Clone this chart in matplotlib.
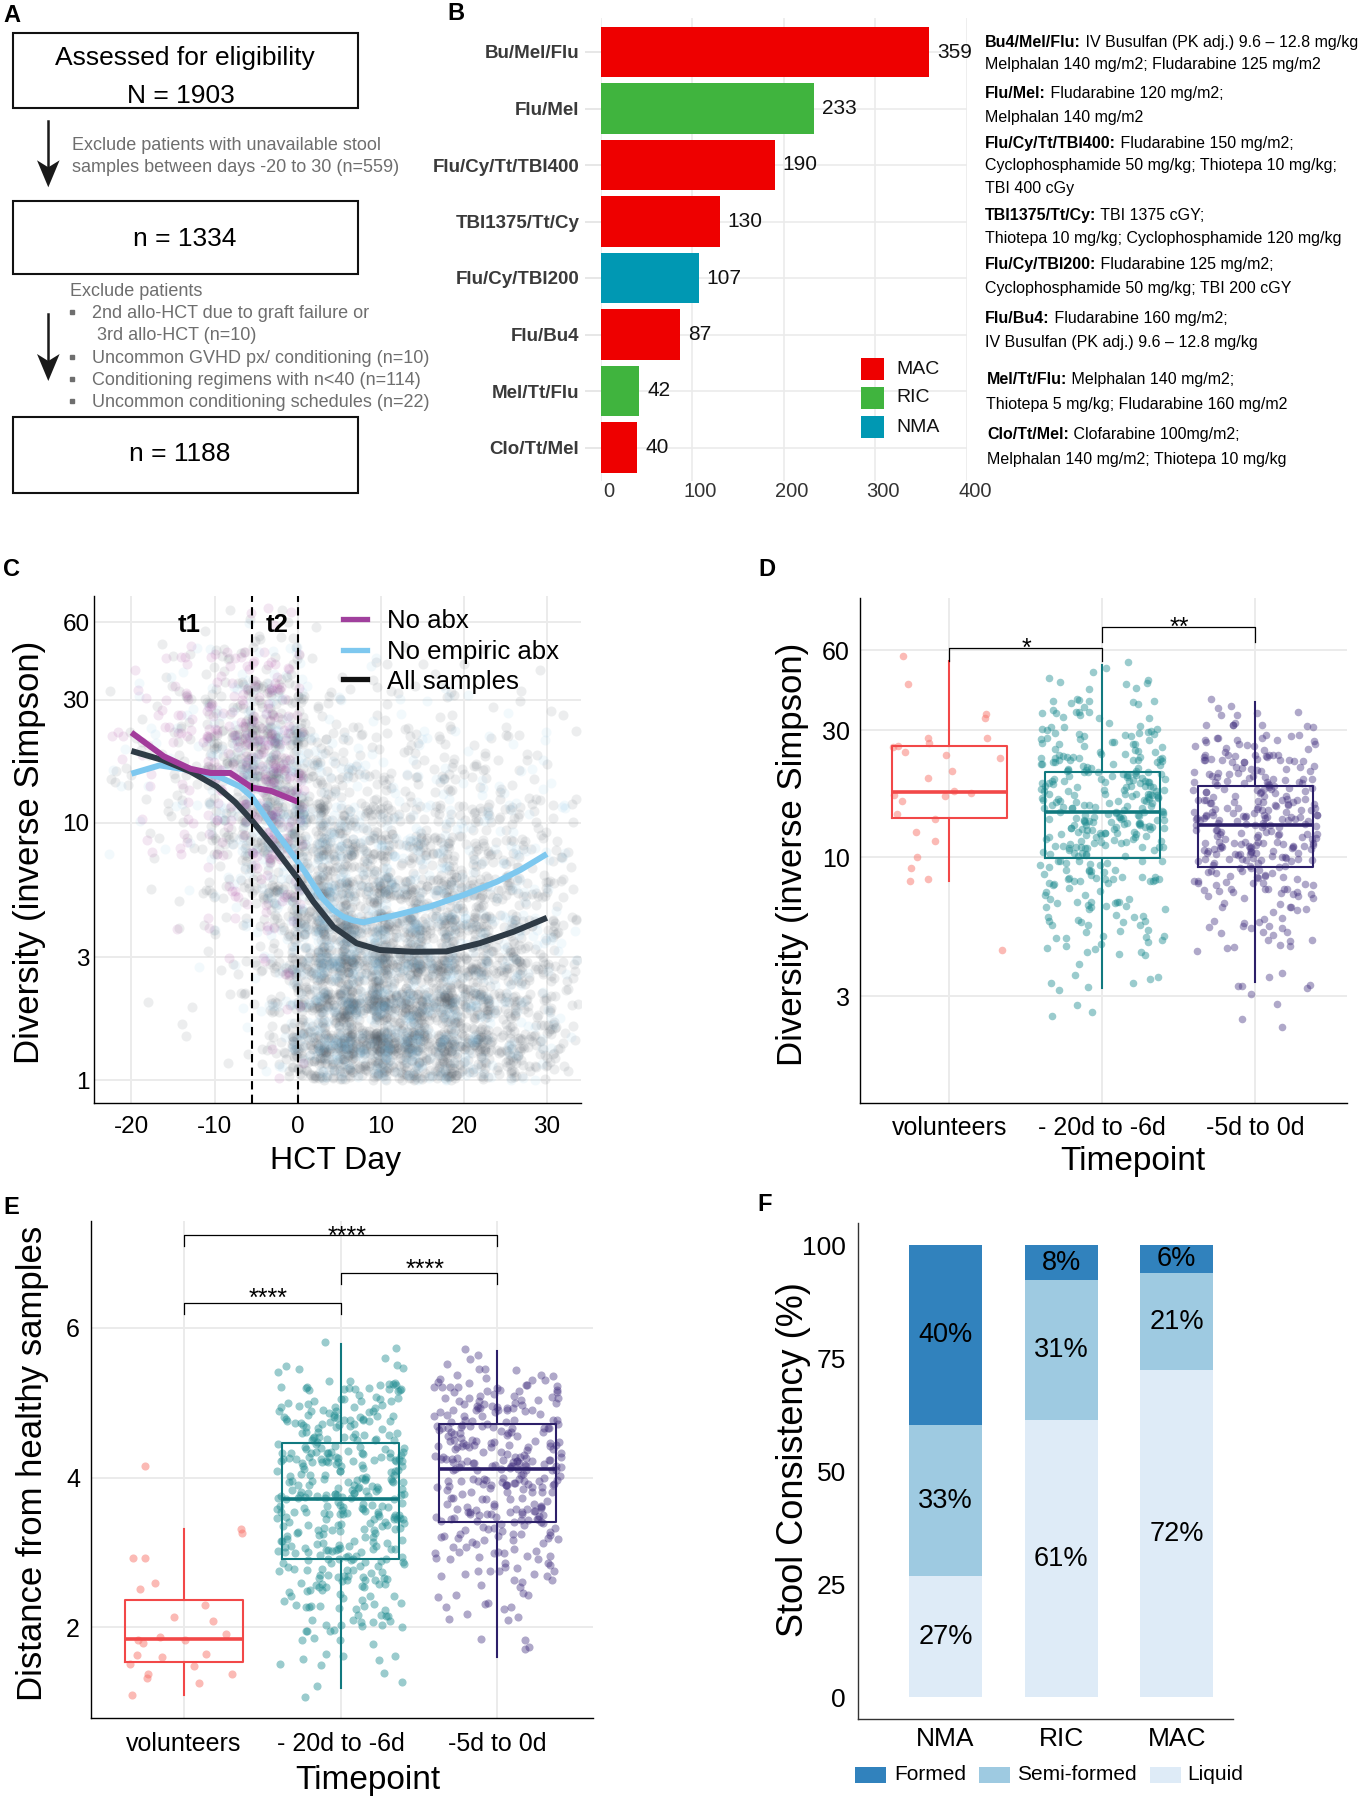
import numpy as np
import matplotlib
matplotlib.use("Agg")
import matplotlib.pyplot as plt
import matplotlib.transforms as mtransforms
from matplotlib.patches import Rectangle, Polygon
from matplotlib.lines import Line2D
from matplotlib.ticker import NullLocator

W, H, DPI = 1359, 1800, 100
plt.rcParams['font.family'] = ['Liberation Sans', 'DejaVu Sans']

# ======================= DATA =======================
# ---- A: flow chart ----
flow_title = "Assessed for eligibility"
flow_counts = ["N = 1903", "n = 1334", "n = 1188"]
exclusion_1 = ["Exclude patients with unavailable stool",
               "samples between days -20 to 30 (n=559)"]
exclusion_2_head = "Exclude patients"
exclusion_2_items = [["2nd allo-HCT due to graft failure or", " 3rd allo-HCT (n=10)"],
                     ["Uncommon GVHD px/ conditioning (n=10)"],
                     ["Conditioning regimens with n<40 (n=114)"],
                     ["Uncommon conditioning schedules (n=22)"]]

# ---- B: regimens ----
regimens = ['Bu/Mel/Flu', 'Flu/Mel', 'Flu/Cy/Tt/TBI400', 'TBI1375/Tt/Cy',
            'Flu/Cy/TBI200', 'Flu/Bu4', 'Mel/Tt/Flu', 'Clo/Tt/Mel']
regimen_n = [359, 233, 190, 130, 107, 87, 42, 40]
regimen_intensity = ['MAC', 'RIC', 'MAC', 'MAC', 'NMA', 'MAC', 'RIC', 'MAC']
intensity_levels = ['MAC', 'RIC', 'NMA']
regimen_desc_bold = ['Bu4/Mel/Flu:', 'Flu/Mel:', 'Flu/Cy/Tt/TBI400:', 'TBI1375/Tt/Cy:',
                     'Flu/Cy/TBI200:', 'Flu/Bu4:', 'Mel/Tt/Flu:', 'Clo/Tt/Mel:']
regimen_desc_lines = [
    [" IV Busulfan (PK adj.) 9.6 \u2013 12.8 mg/kg;", "Melphalan 140 mg/m2; Fludarabine 125 mg/m2"],
    [" Fludarabine 120 mg/m2;", "Melphalan 140 mg/m2"],
    [" Fludarabine 150 mg/m2;", "Cyclophosphamide 50 mg/kg; Thiotepa 10 mg/kg;", "TBI 400 cGy"],
    [" TBI 1375 cGY;", "Thiotepa 10 mg/kg; Cyclophosphamide 120 mg/kg"],
    [" Fludarabine 125 mg/m2;", "Cyclophosphamide 50 mg/kg; TBI 200 cGY"],
    [" Fludarabine 160 mg/m2;", "IV Busulfan (PK adj.) 9.6 \u2013 12.8 mg/kg"],
    [" Melphalan 140 mg/m2;", "Thiotepa 5 mg/kg; Fludarabine 160 mg/m2"],
    [" Clofarabine 100mg/m2;", "Melphalan 140 mg/m2; Thiotepa 10 mg/kg"],
]

# ---- C: diversity over time ----
c_xticks = [-20, -10, 0, 10, 20, 30]
c_yticks = [1, 3, 10, 30, 60]
c_window_edges = [-5.5, 0]
c_days_noabx = [-20, -16.1, -12.9, -10.5, -8.1, -5.5, -3.25, 0]
c_div_noabx = [22.4, 18.1, 16.2, 15.6, 15.6, 13.7, 13.3, 12.07]
c_days_noemp = [-20, -16.6, -12.9, -9.3, -6.9, -5.5, -2.9, -1.5, 0, 1.0, 1.9, 3.0, 4.3, 5.5, 6.7,
                7.9, 11.9, 15.9, 20, 24, 26.8, 30]
c_div_noemp = [15.5, 16.7, 16.0, 15.0, 13.8, 12.6, 9.5, 8.24, 7.05, 6.36, 5.73, 5.08, 4.58, 4.31, 4.17,
               4.10, 4.38, 4.72, 5.24, 5.9, 6.55, 7.56]
c_days_all = [-20, -16.2, -12.9, -9.7, -7.5, -5.5, -2.9, 0, 1.9, 4.3, 7.1, 9.9, 13.9, 17.9, 21.9, 26, 30]
c_div_all = [19.0, 17.5, 15.8, 13.8, 12.0, 10.2, 8.07, 6.08, 4.93, 3.94, 3.40, 3.20, 3.15, 3.16, 3.40,
             3.77, 4.27]
# sample counts per (diversity bin, day bin), read from the point cloud
c_day_edges = [-22, -18, -14, -10, -6, -3, 0, 3, 6, 10, 14, 18, 22, 26, 30, 33]
c_div_edges = [1.0, 1.41, 2.0, 2.8, 4.0, 5.6, 8.0, 11.0, 16.0, 22.0, 32.0, 45.0, 63.0]
c_all_counts = [
    [0, 0, 1, 1, 3, 10, 55, 75, 110, 110, 90, 75, 45, 30, 6],
    [0, 0, 1, 2, 4, 10, 50, 70, 100, 100, 85, 70, 45, 30, 8],
    [0, 1, 1, 3, 6, 12, 55, 70, 95, 95, 80, 65, 45, 32, 10],
    [0, 1, 1, 4, 8, 15, 52, 65, 80, 75, 62, 52, 40, 28, 9],
    [0, 1, 2, 8, 12, 22, 45, 50, 55, 50, 42, 35, 28, 22, 8],
    [1, 2, 3, 12, 20, 28, 40, 42, 45, 38, 32, 28, 22, 18, 7],
    [1, 2, 5, 20, 30, 36, 35, 32, 30, 26, 22, 20, 16, 13, 5],
    [3, 4, 8, 30, 40, 40, 28, 22, 18, 15, 14, 12, 10, 8, 3],
    [3, 4, 8, 30, 40, 36, 16, 11, 9, 8, 7, 7, 5, 4, 1],
    [3, 4, 8, 25, 30, 28, 8, 5, 5, 4, 4, 4, 3, 2, 1],
    [1, 4, 5, 12, 12, 11, 3, 2, 2, 2, 2, 2, 1, 1, 0],
    [0, 1, 1, 3, 4, 4, 1, 0, 0, 0, 0, 0, 0, 0, 0],
]
c_noemp_counts = [
    [0, 0, 0, 0, 1, 3, 15, 20, 25, 25, 20, 15, 10, 6, 1],
    [0, 0, 0, 1, 1, 3, 15, 20, 25, 25, 20, 15, 10, 7, 2],
    [0, 0, 0, 1, 2, 4, 18, 22, 28, 25, 20, 16, 12, 8, 2],
    [0, 0, 1, 1, 3, 6, 20, 24, 26, 22, 18, 14, 11, 8, 3],
    [0, 0, 1, 3, 5, 9, 17, 19, 19, 17, 14, 11, 9, 7, 2],
    [0, 1, 1, 5, 8, 11, 16, 16, 16, 13, 11, 10, 8, 6, 2],
    [1, 1, 2, 8, 12, 14, 13, 13, 11, 10, 8, 7, 6, 5, 2],
    [1, 2, 3, 12, 15, 15, 10, 9, 7, 6, 5, 5, 4, 3, 1],
    [2, 2, 3, 12, 15, 13, 6, 4, 4, 3, 2, 2, 2, 2, 1],
    [2, 2, 3, 10, 11, 9, 3, 2, 2, 2, 2, 2, 1, 1, 0],
    [1, 1, 2, 4, 4, 4, 2, 1, 1, 1, 1, 1, 0, 0, 0],
    [0, 0, 0, 1, 1, 1, 0, 0, 0, 0, 0, 0, 0, 0, 0],
]
c_noabx_counts = [
    [0, 0, 0, 0, 1, 1],
    [0, 0, 0, 0, 1, 1],
    [0, 0, 0, 1, 1, 2],
    [0, 0, 1, 1, 2, 3],
    [0, 0, 1, 3, 4, 5],
    [0, 1, 2, 5, 7, 8],
    [1, 2, 3, 8, 10, 10],
    [2, 3, 5, 14, 16, 14],
    [3, 4, 6, 16, 18, 15],
    [3, 5, 6, 14, 15, 12],
    [2, 4, 5, 7, 7, 6],
    [0, 1, 1, 2, 3, 3],
]

# ---- D: diversity by timepoint ----
timepoints = ['volunteers', '- 20d to -6d', '-5d to 0d']
d_yticks = [3, 10, 30, 60]
d_volunteers = [45.0, 57.0, 34.7, 33.4, 28.0, 28.0, 26.3, 26.8, 25.9, 25.0, 24.2, 23.7, 21.1, 19.9,
                17.5, 17.8, 17.0, 17.2, 16.3, 14.5, 13.9, 12.45, 11.55, 10.0, 9.14, 8.31, 8.14, 4.46]
d_bin_edges = [2.0, 2.51, 3.16, 3.98, 5.01, 6.31, 7.94, 10.0, 12.6, 15.8, 20.0, 25.1, 31.6, 39.8,
               50.1, 63.1]
d_early_counts = [0, 3, 8, 12, 18, 22, 35, 45, 58, 55, 48, 30, 20, 8, 2]
d_late_counts = [2, 2, 6, 8, 15, 25, 40, 55, 55, 50, 40, 25, 8, 0, 0]
# (whisker low, Q1, median, Q3, whisker high)
d_box_stats = [(8.15, 14.06, 17.65, 26.2, 54.8),
               (3.21, 9.97, 14.85, 21.0, 52.9),
               (3.40, 9.17, 13.2, 18.6, 38.5)]
d_signif = [(1, 2, '*'), (2, 3, '**')]

# ---- E: distance from healthy ----
e_yticks = [2, 4, 6]
e_volunteers = [4.16, 3.31, 3.26, 2.93, 2.92, 2.59, 2.51, 2.30, 2.14, 2.09, 1.91, 1.87, 1.83, 1.83,
                1.79, 1.65, 1.63, 1.61, 1.51, 1.48, 1.37, 1.37, 1.32, 1.25, 1.09]
e_bin_edges = [1.0, 1.25, 1.5, 1.75, 2.0, 2.25, 2.5, 2.75, 3.0, 3.25, 3.5, 3.75, 4.0, 4.25, 4.5,
               4.75, 5.0, 5.25, 5.5, 5.75, 6.0]
e_early_counts = [2, 3, 6, 9, 14, 20, 25, 28, 32, 32, 35, 40, 35, 32, 30, 30, 25, 8, 2, 1]
e_late_counts = [0, 0, 2, 2, 5, 8, 12, 15, 20, 25, 30, 35, 38, 35, 30, 30, 25, 12, 4, 0]
e_box_stats = [(1.10, 1.54, 1.84, 2.36, 3.31),
               (1.19, 2.91, 3.71, 4.46, 5.79),
               (1.60, 3.41, 4.12, 4.71, 5.69)]
e_signif = [(1, 3, '****'), (2, 3, '****'), (1, 2, '****')]

# ---- F: stool consistency ----
f_groups = ['NMA', 'RIC', 'MAC']
f_yticks = [0, 25, 50, 75, 100]
f_liquid = [26.9, 61.3, 72.4]
f_semi = [33.3, 31.1, 21.4]
f_formed = [39.8, 7.6, 6.2]
f_levels = ['Formed', 'Semi-formed', 'Liquid']

# ======================= STYLE =======================
COL_INT = {'MAC': '#EE0000', 'RIC': '#40B43E', 'NMA': '#0098B3'}
COL_TP_BOX = ['#F24848', '#11797F', '#2C1F69']
COL_TP_PT = ['#F8766D', '#1F8C90', '#42307F']
COL_F = {'Formed': '#3182BD', 'Semi-formed': '#9ECAE1', 'Liquid': '#DEEBF7'}
GRID = '#EBEBEB'
GRAYTXT = '#6E6E6E'

fig = plt.figure(figsize=(W / DPI, H / DPI), dpi=DPI)
fig.patch.set_facecolor('white')


def add_ax(l, t, r, b):
    return fig.add_axes([l / W, 1 - b / H, (r - l) / W, (b - t) / H])


ov = fig.add_axes([0, 0, 1, 1], zorder=10)
ov.set_xlim(0, W)
ov.set_ylim(H, 0)
ov.axis('off')
ov.patch.set_visible(False)


def spread(n, start, salt):
    """deterministic, irregular positions in [0, 1) used for jitter placement"""
    k = np.arange(start, start + n, dtype=float) + 1.0
    return np.modf(np.abs(np.sin(k * 12.9898 + salt * 78.233)) * 43758.5453)[0]


def cloud(counts, xedges, yedges, start=0, blur=1.5):
    xs, ys = [], []
    k = start
    for r, row in enumerate(counts):
        for c, n in enumerate(row):
            if n == 0:
                continue
            u, v = spread(n, k, 1.0), spread(n, k, 2.0)
            k += n
            w = xedges[c + 1] - xedges[c]
            xs.append(xedges[c] + (u * blur - (blur - 1) / 2) * w)
            lo, hi = yedges[r], yedges[r + 1]
            if r == 0:
                vv = v * (1 + (blur - 1) / 2)
            else:
                vv = v * blur - (blur - 1) / 2
            ys.append(lo * (hi / lo) ** vv)
    return np.concatenate(xs), np.concatenate(ys)


def binned(counts, edges, center, width, log, start=0):
    xs, ys = [], []
    k = start
    for i, n in enumerate(counts):
        if n == 0:
            continue
        u, v = spread(n, k, 3.0), spread(n, k, 4.0)
        k += n
        xs.append(center + (u - 0.5) * width)
        lo, hi = edges[i], edges[i + 1]
        ys.append(lo * (hi / lo) ** v if log else lo + (hi - lo) * v)
    return np.concatenate(xs), np.concatenate(ys)


def jitter(n, center, width, salt):
    return center + (spread(n, 0, salt) - 0.5) * width


def style_axis(ax, lw=1.0, color='black'):
    for s in ['top', 'right']:
        ax.spines[s].set_visible(False)
    for s in ['left', 'bottom']:
        ax.spines[s].set_linewidth(lw)
        ax.spines[s].set_color(color)


# ======================= PANEL A =======================
for (y0, hgt) in [(33.3, 75.0), (201.0, 73.3), (417.3, 75.3)]:
    ov.add_patch(Rectangle((13.3, y0), 344.4, hgt, fill=False, lw=1.5, ec='#111111'))
ov.text(185, 65, flow_title, fontsize=19, ha='center', va='baseline')
ov.text(181, 102.7, flow_counts[0], fontsize=19, ha='center', va='baseline')
ov.text(185, 245.7, flow_counts[1], fontsize=19, ha='center', va='baseline')
ov.text(180, 461, flow_counts[2], fontsize=19, ha='center', va='baseline')
for (ys, ye) in [(120.7, 187.3), (314.0, 381.0)]:
    ov.plot([48.3, 48.3], [ys, ye - 20], color='#1a1a1a', lw=1.8)
    ov.add_patch(Polygon([(37.0, ye - 27), (48.3, ye), (59.6, ye - 27), (48.3, ye - 20)],
                         closed=True, fc='#1a1a1a', ec='none'))
ov.text(71.7, 150, exclusion_1[0], fontsize=13, color=GRAYTXT, va='baseline')
ov.text(71.7, 172, exclusion_1[1], fontsize=13, color=GRAYTXT, va='baseline')
ov.text(70, 296, exclusion_2_head, fontsize=13, color=GRAYTXT, va='baseline')
item_baselines = [[318.3, 340.0], [362.7], [385.0], [407.3]]
for item, bls in zip(exclusion_2_items, item_baselines):
    ov.plot([72.3], [bls[0] - 6], marker='s', ms=2.6, color=GRAYTXT, lw=0)
    for line, bl in zip(item, bls):
        ov.text(91.7, bl, line, fontsize=13, color=GRAYTXT, va='baseline')

# ======================= PANEL B =======================
axB = add_ax(600.7, 18.1, 966.8, 481.4)
yB = np.arange(len(regimens))
axB.barh(yB, regimen_n, height=0.9, color=[COL_INT[k] for k in regimen_intensity], zorder=2)
axB.set_xlim(0, 400)
axB.set_ylim(len(regimens) - 0.4, -0.6)
axB.set_xticks([0, 100, 200, 300, 400])
axB.set_xticklabels(['0', '100', '200', '300', '400'])
axB.set_yticks(yB)
axB.set_yticklabels(regimens, fontweight='bold', color='#3A3A3A')
axB.grid(True, color=GRID, lw=1.2)
axB.set_axisbelow(True)
for s in axB.spines.values():
    s.set_visible(False)
axB.tick_params(axis='y', length=11.5, color='#E3E3E3', width=1.2, pad=4, labelsize=13.5)
axB.tick_params(axis='x', length=0, pad=0.7, labelsize=14.5, labelcolor='#333333')
for lbl in axB.get_xticklabels():
    lbl.set_transform(lbl.get_transform() + mtransforms.ScaledTranslation(8 / DPI, 0, fig.dpi_scale_trans))
val_tr = mtransforms.offset_copy(axB.transData, fig=fig, x=8 * 72 / DPI, y=0, units='points')
for yi, n in zip(yB, regimen_n):
    axB.text(n, yi, str(n), transform=val_tr, ha='left', va='center', fontsize=15, color='#111111')
for i, lev in enumerate(intensity_levels):
    yc = 369 + 29 * i
    ov.add_patch(Rectangle((861, yc - 11), 23, 22, fc=COL_INT[lev], ec='none'))
    ov.text(896, yc, lev, fontsize=14, va='center', ha='left', color='#111111')
renderer = fig.canvas.get_renderer()
desc_baselines = [[46.7, 69.3], [97.7, 121.7], [147.7, 170.0, 193.3], [220.0, 242.7],
                  [269.3, 292.7], [322.7, 347.3], [384.3, 409.3], [439.3, 464.0]]
desc_x = [985, 985, 985, 985, 985, 985, 986.5, 987]
for bold, lines, bls, x0 in zip(regimen_desc_bold, regimen_desc_lines, desc_baselines, desc_x):
    tb = ov.text(x0, bls[0], bold, fontsize=11.5, fontweight='bold', va='baseline', ha='left')
    bb = tb.get_window_extent(renderer=renderer)
    ov.text(bb.x1, bls[0], lines[0], fontsize=11.5, va='baseline', ha='left')
    for line, bl in zip(lines[1:], bls[1:]):
        ov.text(x0, bl, line, fontsize=11.5, va='baseline', ha='left')

# ======================= PANEL C =======================
axC = add_ax(94, 596, 581, 1103.3)
axC.set_yscale('log')
gx, gy = cloud(c_all_counts, c_day_edges, c_div_edges, 0)
axC.scatter(gx, gy, s=52, color='#56616B', alpha=0.11, lw=0, zorder=2)
bx, by = cloud(c_noemp_counts, c_day_edges, c_div_edges, 9000)
axC.scatter(bx, by, s=52, color='#79BFE6', alpha=0.09, lw=0, zorder=2)
px, py = cloud(c_noabx_counts, c_day_edges[:7], c_div_edges, 15000)
axC.scatter(px, py, s=52, color='#A23B9B', alpha=0.12, lw=0, zorder=2)
axC.plot(c_days_noemp, c_div_noemp, color='#7EC8EF', lw=4.3, zorder=4, solid_capstyle='butt')
axC.plot(c_days_all, c_div_all, color='#2F3B46', lw=4.3, zorder=5, solid_capstyle='butt')
axC.plot(c_days_noabx, c_div_noabx, color='#A23B9B', lw=4.3, zorder=6, solid_capstyle='butt')
for xv in c_window_edges:
    axC.axvline(xv, color='black', lw=1.5, ls=(0, (4, 2.5)), zorder=7)
axC.set_xlim(-24.5, 34.1)
axC.set_ylim(0.812, 76)
axC.set_xticks(c_xticks)
axC.set_xticklabels([str(v) for v in c_xticks])
axC.set_yticks(c_yticks)
axC.set_yticklabels([str(v) for v in c_yticks])
axC.yaxis.set_minor_locator(NullLocator())
axC.grid(True, color=GRID, lw=1.4)
axC.set_axisbelow(True)
style_axis(axC)
axC.tick_params(length=0, labelsize=17.5, labelcolor='black')
axC.tick_params(axis='y', pad=3.2)
axC.tick_params(axis='x', pad=9.4)
ov.text(189, 631.7, 't1', fontsize=18.5, fontweight='bold', ha='center', va='baseline')
ov.text(277, 631.7, 't2', fontsize=18.5, fontweight='bold', ha='center', va='baseline')
for (lab, col, yc) in [('No abx', '#A0409D', 619.3), ('No empiric abx', '#7EC8EF', 650.0),
                       ('All samples', '#111111', 679.3)]:
    ov.add_line(Line2D([343, 367], [yc, yc], color=col, lw=3.8))
    ov.text(386.7, yc + 9.2, lab, fontsize=18.5, ha='left', va='baseline')
ov.text(30, 852, 'Diversity (inverse Simpson)', fontsize=25, rotation=90, ha='center', va='center')
ov.text(336, 1169, 'HCT Day', fontsize=23, ha='center', va='baseline')

# ======================= PANEL D =======================
axD = add_ax(860, 598, 1347, 1103.3)
axD.set_yscale('log')
vx = jitter(len(d_volunteers), 1, 0.78, 5.0)
axD.scatter(vx, d_volunteers, s=30, color=COL_TP_PT[0], alpha=0.5, lw=0, zorder=2)
ex, ey = binned(d_early_counts, d_bin_edges, 2, 0.82, True, 0)
axD.scatter(ex, ey, s=30, color=COL_TP_PT[1], alpha=0.45, lw=0, zorder=2)
lx, ly = binned(d_late_counts, d_bin_edges, 3, 0.82, True, 500)
axD.scatter(lx, ly, s=30, color=COL_TP_PT[2], alpha=0.42, lw=0, zorder=2)


def draw_boxes(ax, stats):
    for i, (wl, q1, med, q3, wh) in enumerate(stats):
        c = COL_TP_BOX[i]
        ax.bxp([{'whislo': wl, 'q1': q1, 'med': med, 'q3': q3, 'whishi': wh, 'fliers': []}],
               positions=[i + 1], widths=0.75, showfliers=False, showcaps=False,
               manage_ticks=False, zorder=3,
               boxprops=dict(color=c, lw=1.5), whiskerprops=dict(color=c, lw=1.5),
               medianprops=dict(color=c, lw=2.6))


draw_boxes(axD, d_box_stats)


def bracket(ax, x1, x2, y, yl, yr):
    ax.plot([x1, x1, x2, x2], [yl, y, y, yr], color='black', lw=0.9, clip_on=False, zorder=6)


bracket(axD, 1, 2, 61.1, 54.8, 54.8)
bracket(axD, 2, 3, 73.7, 64.7, 64.7)
ov.text(1026, 656, d_signif[0][2], fontsize=18, ha='center', va='baseline')
ov.text(1179, 634.5, d_signif[1][2], fontsize=18, ha='center', va='baseline')
axD.set_xlim(0.416, 3.6)
axD.set_ylim(1.187, 94.5)
axD.set_xticks([1, 2, 3])
axD.set_xticklabels(timepoints)
axD.set_yticks(d_yticks)
axD.set_yticklabels([str(v) for v in d_yticks])
axD.yaxis.set_minor_locator(NullLocator())
axD.grid(True, color=GRID, lw=1.4)
axD.set_axisbelow(True)
style_axis(axD)
axD.tick_params(length=0, labelsize=18, labelcolor='black')
axD.tick_params(axis='y', pad=7.2)
axD.tick_params(axis='x', pad=9.0)
ov.text(792.5, 854, 'Diversity (inverse Simpson)', fontsize=25, rotation=90, ha='center', va='center')
ov.text(1133, 1170, 'Timepoint', fontsize=24, ha='center', va='baseline')

# ======================= PANEL E =======================
axE = add_ax(91, 1220.7, 593, 1717.7)
vx = jitter(len(e_volunteers), 1, 0.78, 6.0)
axE.scatter(vx, e_volunteers, s=34, color=COL_TP_PT[0], alpha=0.5, lw=0, zorder=2)
ex, ey = binned(e_early_counts, e_bin_edges, 2, 0.82, False, 1000)
axE.scatter(ex, ey, s=34, color=COL_TP_PT[1], alpha=0.45, lw=0, zorder=2)
lx, ly = binned(e_late_counts, e_bin_edges, 3, 0.82, False, 1600)
axE.scatter(lx, ly, s=34, color=COL_TP_PT[2], alpha=0.42, lw=0, zorder=2)
draw_boxes(axE, e_box_stats)
bracket(axE, 1, 3, 7.24, 7.095, 7.095)
bracket(axE, 2, 3, 6.734, 6.59, 6.59)
bracket(axE, 1, 2, 6.334, 6.19, 6.19)
ov.text(346.8, 1229.3 + 14.5, e_signif[0][2], fontsize=18, ha='center', va='baseline')
ov.text(425.4, 1262.3 + 14.5, e_signif[1][2], fontsize=18, ha='center', va='baseline')
ov.text(268.5, 1291 + 14.5, e_signif[2][2], fontsize=18, ha='center', va='baseline')
axE.set_xlim(0.407, 3.61)
axE.set_ylim(0.793, 7.43)
axE.set_xticks([1, 2, 3])
axE.set_xticklabels(timepoints)
axE.set_yticks(e_yticks)
axE.set_yticklabels([str(v) for v in e_yticks])
axE.grid(True, color=GRID, lw=1.4)
axE.set_axisbelow(True)
style_axis(axE)
axE.tick_params(length=0, labelsize=18, labelcolor='black')
axE.tick_params(axis='y', pad=8)
axE.tick_params(axis='x', pad=10)
ov.text(32.4, 1463, 'Distance from healthy samples', fontsize=25, rotation=90, ha='center', va='center')
ov.text(368, 1789, 'Timepoint', fontsize=24, ha='center', va='baseline')

# ======================= PANEL F =======================
axF = add_ax(857.7, 1223.3, 1233.3, 1719)
xF = np.arange(1, len(f_groups) + 1)
bottom = np.zeros(len(f_groups))
for vals, lev in [(f_liquid, 'Liquid'), (f_semi, 'Semi-formed'), (f_formed, 'Formed')]:
    vals = np.array(vals)
    axF.bar(xF, vals, bottom=bottom, width=0.63, color=COL_F[lev], lw=0)
    for xi, b, v in zip(xF, bottom, vals):
        axF.text(xi, b + v / 2, f"{int(round(float(v)))}%", ha='center', va='center', fontsize=19.5)
    bottom = bottom + vals
axF.set_xlim(0.24, 3.49)
axF.set_ylim(-4.8, 104.9)
axF.set_xticks(xF)
axF.set_xticklabels(f_groups)
axF.set_yticks(f_yticks)
axF.set_yticklabels([str(v) for v in f_yticks])
style_axis(axF, lw=1.0, color='#333333')
axF.tick_params(length=0, labelsize=19, labelcolor='black')
axF.tick_params(axis='y', pad=8.4)
axF.tick_params(axis='x', pad=6.1)
ov.text(793.6, 1459.7, 'Stool Consistency (%)', fontsize=26, rotation=90, ha='center', va='center')
for lev, (px0, tx) in zip(f_levels, [(854.7, 894.5), (978.5, 1016.7), (1149.6, 1187.0)]):
    ov.add_patch(Rectangle((px0, 1767), 31.3, 16, fc=COL_F[lev], ec='none'))
    ov.text(tx, 1775, lev, fontsize=15, ha='left', va='center')

# ======================= PANEL LETTERS =======================
for lab, (x, y) in zip('ABCDEF', [(11.5, 15.5), (456, 14), (11.5, 570), (766.5, 569),
                                  (11.7, 1208), (764.8, 1204.7)]):
    ov.text(x, y, lab, fontsize=17, fontweight='bold', ha='center', va='center')

fig.savefig('out.png', dpi=DPI)
